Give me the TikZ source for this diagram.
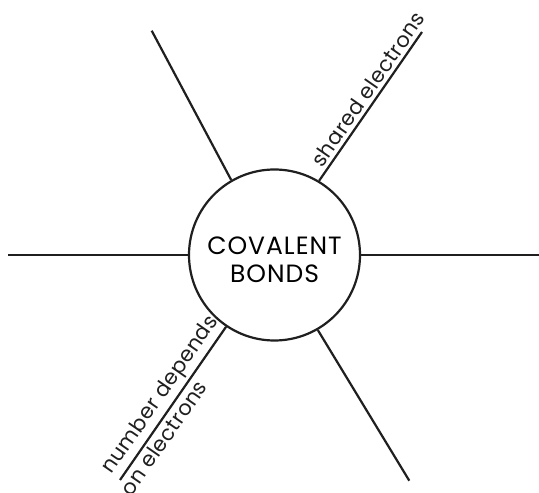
\documentclass[tikz,border=0pt]{standalone}
\usepackage{fontspec}
\setmainfont{Poppins}

\begin{document}
\begin{tikzpicture}[x=1pt,y=1pt,
  spoke/.style={line width=2.2pt,color=black!88},
  lbl/.style={font=\fontsize{21}{24}\selectfont\addfontfeature{LetterSpace=2},sloped,inner sep=3pt}]
  \useasboundingbox (0,0) rectangle (539,493);
  \clip (0,0) rectangle (539,493);
  \node[circle,draw=black!88,line width=2.2pt,minimum size=171pt,inner sep=0pt] (bonds) at (274.5,238) {};
  \node[align=center,font=\fontsize{25}{28}\selectfont\addfontfeature{LetterSpace=4}] (title) at ([yshift=-5pt]bonds.center) {COVALENT\\BONDS};
  \coordinate (w) at (8,238);
  \coordinate (e) at (541,238);
  \coordinate (nw) at (151.7,462.3);
  \coordinate (ne) at (422,461);
  \coordinate (sw) at (120,13);
  \coordinate (se) at (409.3,12.3);
  \draw[spoke] (w) -- (bonds.west);
  \draw[spoke] (bonds.east) -- (e);
  \draw[spoke] (bonds.120) -- (nw);
  \draw[spoke] (bonds.59) -- (ne) node[lbl,pos=0.57,above] {shared electrons};
  \draw[spoke] (sw) -- (bonds.236)
    node[lbl,pos=0.5,above] {number depends}
    node[lbl,pos=0.32,below] {on electrons};
  \draw[spoke] (bonds.300) -- (se);
\end{tikzpicture}
\end{document}
